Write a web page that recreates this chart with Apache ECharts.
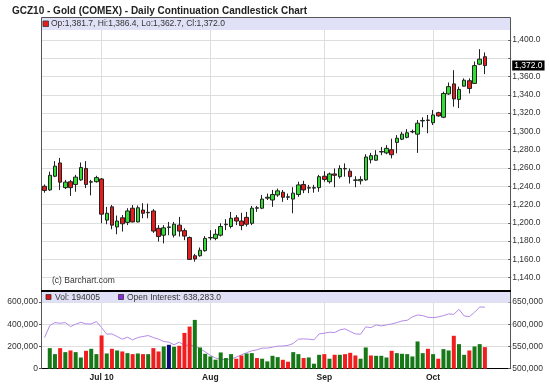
<!DOCTYPE html>
<html><head><meta charset="utf-8">
<script src="https://cdn.jsdelivr.net/npm/echarts@6/dist/echarts.min.js"></script>
<style>html,body{margin:0;padding:0;background:#fff}#c{width:550px;height:384px}</style>
</head><body><div id="c"></div>
<script>
const dates = [
'2010-06-16','2010-06-17','2010-06-18','2010-06-21','2010-06-22','2010-06-23','2010-06-24','2010-06-25','2010-06-28','2010-06-29','2010-06-30',
'2010-07-01','2010-07-02','2010-07-06','2010-07-07','2010-07-08','2010-07-09','2010-07-12','2010-07-13','2010-07-14','2010-07-15','2010-07-16','2010-07-19','2010-07-20','2010-07-21','2010-07-22','2010-07-23','2010-07-26','2010-07-27','2010-07-28','2010-07-29','2010-07-30',
'2010-08-02','2010-08-03','2010-08-04','2010-08-05','2010-08-06','2010-08-09','2010-08-10','2010-08-11','2010-08-12','2010-08-13','2010-08-16','2010-08-17','2010-08-18','2010-08-19','2010-08-20','2010-08-23','2010-08-24','2010-08-25','2010-08-26','2010-08-27','2010-08-30','2010-08-31',
'2010-09-01','2010-09-02','2010-09-03','2010-09-07','2010-09-08','2010-09-09','2010-09-10','2010-09-13','2010-09-14','2010-09-15','2010-09-16','2010-09-17','2010-09-20','2010-09-21','2010-09-22','2010-09-23','2010-09-24','2010-09-27','2010-09-28','2010-09-29','2010-09-30',
'2010-10-01','2010-10-04','2010-10-05','2010-10-06','2010-10-07','2010-10-08','2010-10-11','2010-10-12','2010-10-13','2010-10-14','2010-10-15'];
const opens = [1240,1236,1251,1265.5,1238.5,1245,1242,1247,1259.5,1244.5,1245,
1248,1203,1217.5,1195.5,1205.5,1200.5,1216,1201,1214,1211,1213,1194,1186.5,1195,1186.5,1197.5,1191.5,1184,1164,1164,1169.5,
1183.5,1183,1186.5,1198,1196,1205.5,1202,1206,1199.5,1216,1216,1227,1225,1230.5,1233.5,1228,1226,1231,1242,1238,1238,1238.5,
1251,1245,1253.5,1250.5,1259,1256.5,1246.5,1246,1247,1269,1268.5,1277.5,1276.5,1280,1288,1291.5,1293.5,1299.5,1297,1311.5,1312,
1309.5,1320.5,1315.5,1341,1352,1335,1349.5,1355.5,1352.5,1373.5,1381.7];
const highs = [1242,1256,1267.5,1271,1247,1247,1252.5,1266,1267.5,1247,1251.5,
1249,1217.5,1219.5,1208,1208.5,1216,1219.5,1219,1221.5,1221,1215,1197.5,1197.5,1201,1201,1206.5,1194,1185,1166,1173,1185.5,
1192,1193,1199.5,1204,1212,1208.5,1211,1212,1218.5,1218.5,1230.5,1232,1236,1237.5,1236,1232,1239,1245,1246,1241.5,1241.5,1252.5,
1256.5,1255,1259.5,1263,1265,1259.5,1251,1251,1275,1276.5,1279.5,1283,1285,1292,1296,1299.5,1302.5,1302,1312.5,1315.5,1318,
1323.5,1321.5,1343.5,1353.5,1367,1349,1358,1358,1376.5,1390,1386.4];
const lows = [1233,1235,1250,1236,1237,1229.5,1234,1246,1238,1230,1244,
1199.5,1198.5,1193,1187.5,1190.5,1197.5,1200.5,1200.5,1205,1205,1189,1179.5,1177.5,1186.5,1184,1185,1181,1159.5,1157.5,1163,1168.5,
1181,1181,1185,1192,1194,1197.5,1192,1196,1197.5,1212,1215,1225,1217.5,1228.5,1223,1225,1210.5,1228.5,1232.5,1232.5,1233,1234,
1245,1243,1239,1248.5,1250.5,1243,1239,1242,1246,1265,1268,1274,1275,1270.5,1276,1290.5,1292.5,1298,1276.5,1304.5,1298,
1307,1316,1314.5,1340,1327,1325.5,1349,1341.5,1352,1372.5,1362.7];
const closes = [1235.5,1252,1262,1244.5,1244.5,1238.5,1250,1260.5,1242,1245,1249.5,
1209.5,1210.5,1197.5,1202,1199,1213,1201,1216.5,1210.5,1211.5,1191,1185,1194.5,1195.5,1198.5,1191,1185.5,1160,1160.5,1170,1183,
1184,1187.5,1196,1198.5,1205,1202,1197,1198.5,1216,1216.5,1226,1228,1231,1235,1228,1228.5,1232.5,1241.5,1236,1238.5,1238.5,1250.5,
1247.5,1253.5,1252,1259.5,1259.5,1250.5,1247,1247.5,1272,1273.5,1274,1278,1281.5,1274.5,1292.5,1297,1298.5,1300,1309,1312,1312.5,
1318,1317,1341.5,1349,1335.5,1346,1356,1347,1372,1379,1372.0];
const volumes = [null,185000,131000,185000,149000,164000,149000,101000,161000,179000,131000,
299000,137000,179000,164000,155000,140000,131000,137000,131000,131000,185000,155000,200000,215000,197000,206000,322000,379000,439000,191000,134000,
110000,81000,146000,96000,131000,90000,119000,137000,140000,96000,90000,66000,116000,104000,80000,63000,149000,131000,96000,101000,45000,125000,
131000,90000,125000,125000,131000,143000,119000,90000,191000,119000,116000,116000,101000,161000,140000,134000,131000,110000,245000,140000,179000,
131000,90000,176000,164000,296000,221000,125000,164000,200000,221000,194005];
const volumeDirection = ['u','u','u','d','u','d','u','u','d','u','u',
'd','u','d','u','d','u','d','u','d','u','d','d','u','n','u','d','d','d','u','u','u',
'u','u','u','u','u','d','d','u','u','d','u','u','u','u','d','d','u','u','d','u','u','u',
'd','u','d','u','d','d','d','u','u','d','u','u','u','d','u','u','u','u','u','u','d',
'u','d','u','u','d','u','u','d','u','u','d'];
const openInterest = [570100,597000,603700,602200,603700,594700,600000,604400,600700,600700,606000,
592500,577600,578300,572400,566400,570900,564900,570100,572400,574600,570100,566400,561200,559700,553700,559700,552200,553700,550000,545000,538000,
530000,524000,521000,520000,522000,526000,531000,536000,540300,542500,546300,546300,548500,550700,551000,552500,556700,566400,567100,566400,564900,578300,
579800,582100,581300,587300,589500,583600,578300,577600,594000,592500,598500,596200,598500,600700,603700,607400,608900,616400,620900,619400,615600,
614900,616400,619400,623100,622300,633500,618600,617100,626800,638800,638283];
const monthTickDates = ['2010-07-01','2010-08-02','2010-09-01','2010-10-01'];
const monthTickLabels = ['Jul 10','Aug','Sep','Oct'];
const priceTicks = {min:1140, max:1400, step:20};
const volTicks = {min:0, max:600000, step:200000};
const oiTicks = {min:500000, max:650000, step:50000};

const FONT = '"Liberation Sans", Arial, sans-serif';
const fmt1 = v => v.toLocaleString('en-US',{minimumFractionDigits:1,maximumFractionDigits:1});
const last = dates.length - 1;
const lastClose = closes[last];
const cats = dates.concat(['pad1','pad2','pad3','pad4']);
const tickIdx = monthTickDates.map(d => cats.indexOf(d));

const L = 42, W = 466.2;
const gridLine = '#dedede';
const upFill = '#33dd33', downFill = '#e81c1c';
const volColors = {u:'#167816', d:'#f01e1e', n:'#0b0b7e'};

const chart = echarts.init(document.getElementById('c'), null, {renderer:'canvas'});
const hiddenCat = (gi) => ({type:'category', gridIndex:gi, data:cats, boundaryGap:true,
  axisLine:{show:false}, axisTick:{show:false}, axisLabel:{show:false}, splitLine:{show:false}});
const vlineMark = {silent:true, z:1, symbol:['none','none'], label:{show:false},
  lineStyle:{color:gridLine, width:1, type:'solid'}, emphasis:{disabled:true},
  data: monthTickDates.map(d => ({xAxis:d}))};

chart.setOption({
  animation:false,
  backgroundColor:'#fff',
  grid:[
    {left:L, top:30, width:W, height:261},
    {left:L, top:40, width:W, height:237.7},
    {left:L, top:302, width:W, height:66.7}
  ],
  xAxis:[
    hiddenCat(0),
    hiddenCat(1),
    {type:'category', gridIndex:2, data:cats, boundaryGap:true,
     axisLine:{show:true, lineStyle:{color:'#000', width:1}},
     axisTick:{show:false},
     axisLabel:{show:true, interval:(i)=>tickIdx.indexOf(i)>=0, margin:4,
       formatter:(v)=>{const k=monthTickDates.indexOf(v); return k>=0?monthTickLabels[k]:'';},
       fontFamily:FONT, fontSize:8.5, fontWeight:'bold', color:'#222'},
     splitLine:{show:false}}
  ],
  yAxis:[
    {type:'value', gridIndex:0, min:0, max:1, show:false},
    {type:'value', gridIndex:1, position:'right', min:priceTicks.min, max:priceTicks.max, interval:priceTicks.step,
     axisLine:{show:false}, axisTick:{show:true, length:3, lineStyle:{color:'#555'}},
     axisLabel:{margin:4, fontFamily:FONT, fontSize:8.5, color:'#333',
       formatter:(v)=> Math.abs(v-lastClose)<12 ? '' : fmt1(v)},
     splitLine:{show:true, lineStyle:{color:gridLine, width:1}}},
    {type:'value', gridIndex:2, position:'left', min:volTicks.min, max:volTicks.max, interval:volTicks.step,
     axisLine:{show:false}, axisTick:{show:true, length:3, lineStyle:{color:'#555'}},
     axisLabel:{margin:4, fontFamily:FONT, fontSize:8.5, color:'#333'},
     splitLine:{show:true, lineStyle:{color:gridLine, width:1}}},
    {type:'value', gridIndex:2, position:'right', min:oiTicks.min, max:oiTicks.max, interval:oiTicks.step,
     axisLine:{show:false}, axisTick:{show:true, length:3, lineStyle:{color:'#555'}},
     axisLabel:{margin:4, fontFamily:FONT, fontSize:8.5, color:'#333'},
     splitLine:{show:false}}
  ],
  series:[
    {type:'line', xAxisIndex:0, yAxisIndex:0, data:[], z:1, markLine:vlineMark},
    {type:'candlestick', xAxisIndex:1, yAxisIndex:1, barWidth:4, z:3,
     data: dates.map((d,i)=>[opens[i], closes[i], lows[i], highs[i]]),
     itemStyle:{color:upFill, color0:downFill, borderColor:'#222', borderColor0:'#222', borderWidth:1},
     markLine:{silent:true, z:6, symbol:['none','none'],
       lineStyle:{color:'rgba(0,0,0,0)', width:1, type:'solid'},
       data:[{yAxis:lastClose}],
       label:{show:true, position:'end', distance:4, formatter:()=>fmt1(lastClose),
         backgroundColor:'#000', color:'#fff', fontFamily:FONT, fontSize:8.5, padding:[1,2,0,2]}}},
    {type:'line', xAxisIndex:2, yAxisIndex:2, data:[], z:1, markLine:vlineMark},
    {type:'line', xAxisIndex:2, yAxisIndex:3, z:2, data:openInterest, showSymbol:false, symbol:'none',
     lineStyle:{color:'#b48be8', width:1}, itemStyle:{color:'#b48be8'}},
    {type:'bar', xAxisIndex:2, yAxisIndex:2, z:3, barWidth:4,
     data: volumes.map((v,i)=>({value:v, itemStyle:{color:volColors[volumeDirection[i]]}}))}
  ],
  graphic:[
    {type:'rect', z:10, shape:{x:42, y:17.5, width:468, height:12.5}, style:{fill:'#e0e0f6'}},
    {type:'rect', z:10, shape:{x:42, y:292, width:468, height:10.5}, style:{fill:'#e0e0f6'}},
    {type:'polyline', z:11, shape:{points:[[41.5,291],[41.5,17.5],[510.5,17.5],[510.5,291]]}, style:{stroke:'#555', lineWidth:1, fill:null}},
    {type:'line', z:11, shape:{x1:41.5,y1:291,x2:41.5,y2:369}, style:{stroke:'#555', lineWidth:1}},
    {type:'line', z:11, shape:{x1:510.5,y1:291,x2:510.5,y2:369}, style:{stroke:'#555', lineWidth:1}},
    {type:'line', z:12, shape:{x1:41,y1:291,x2:511,y2:291}, style:{stroke:'#000', lineWidth:2}},
    {type:'text', z:12, style:{x:12, y:11, text:'GCZ10 - Gold (COMEX) - Daily Continuation Candlestick Chart',
      font:'bold 10px '+FONT, fill:'#222', align:'left', verticalAlign:'middle'}},
    {type:'rect', z:12, shape:{x:43, y:21, width:5.5, height:5.5}, style:{fill:downFill, stroke:'#333', lineWidth:0.8}},
    {type:'text', z:12, style:{x:51, y:24, text:'Op:'+fmt1(opens[last])+', Hi:'+fmt1(highs[last])+', Lo:'+fmt1(lows[last])+', Cl:'+fmt1(closes[last]),
      font:'8.5px '+FONT, fill:'#333', align:'left', verticalAlign:'middle'}},
    {type:'text', z:12, style:{x:52, y:281, text:'(c) Barchart.com', font:'8.5px '+FONT, fill:'#333', align:'left', verticalAlign:'middle'}},
    {type:'rect', z:12, shape:{x:46, y:294.5, width:5, height:5}, style:{fill:'#e01010', stroke:'#333', lineWidth:0.8}},
    {type:'text', z:12, style:{x:55, y:297.5, text:'Vol: '+volumes[last], font:'8.5px '+FONT, fill:'#333', align:'left', verticalAlign:'middle'}},
    {type:'rect', z:12, shape:{x:118.5, y:294.5, width:5, height:5}, style:{fill:'#8a2be2', stroke:'#333', lineWidth:0.8}},
    {type:'text', z:12, style:{x:127, y:297.5, text:'Open Interest: '+fmt1(openInterest[last]), font:'8.5px '+FONT, fill:'#333', align:'left', verticalAlign:'middle'}}
  ]
});
</script></body></html>
